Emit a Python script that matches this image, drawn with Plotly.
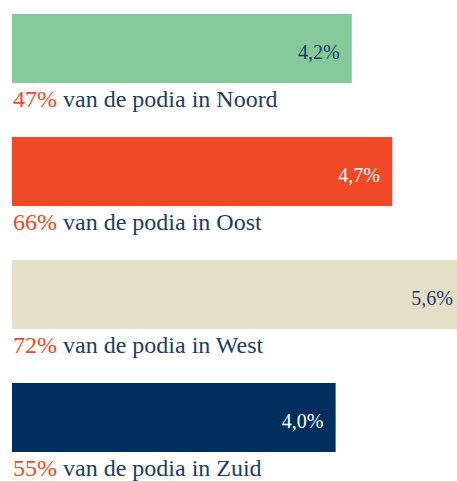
import plotly.graph_objects as go

# Regio's, het aandeel (%) per regio en het aandeel podia in die regio
regios = ["Noord", "Oost", "West", "Zuid"]
aandeel = [4.2, 4.7, 5.6, 4.0]
podia_pct = [47, 66, 72, 55]

bar_colors = ["#86C99B", "#F04925", "#E6DFC7", "#002F5F"]
value_text_colors = ["#1B3C6B", "#FFFFFF", "#1B3C6B", "#FFFFFF"]

NAVY = "#1B3C6B"
ORANGE = "#F04925"
FONT = "Liberation Serif"

Y_RANGE = [3.516, -0.394]
VALUE_DROP = 0.043  # waardelabels iets onder het midden van de balk

fig = go.Figure()
fig.add_trace(go.Bar(
    x=aandeel,
    y=regios,
    orientation="h",
    width=0.56,
    marker=dict(color=bar_colors, line=dict(width=0)),
    hoverinfo="skip",
))

# Waardelabels rechts in de balk (onzichtbare marker geeft de marge tot het balkeinde)
fig.add_trace(go.Scatter(
    x=aandeel,
    y=regios,
    yaxis="y2",
    mode="markers+text",
    marker=dict(size=18, opacity=0),
    texttemplate="%{x:.1f}%",
    textposition="middle left",
    textfont=dict(family=FONT, size=20, color=value_text_colors),
    cliponaxis=True,
    hoverinfo="skip",
))

# Toelichting onder elke balk
for regio, pct in zip(regios, podia_pct):
    fig.add_annotation(
        xref="paper", x=0, xanchor="left", xshift=-1,
        yref="y", y=regio, yanchor="top", yshift=-35.5,
        text=f'<span style="color:{ORANGE}">{pct}%</span> van de podia in {regio}',
        showarrow=False,
        font=dict(family=FONT, size=24, color=NAVY),
        align="left",
    )

fig.update_layout(
    width=457, height=481,
    margin=dict(l=12, r=0, t=0, b=0),
    paper_bgcolor="white", plot_bgcolor="white",
    separators=",.",
    showlegend=False,
    xaxis=dict(visible=False, range=[0, 5.50], fixedrange=True),
    yaxis=dict(visible=False, range=Y_RANGE, fixedrange=True,
               categoryorder="array", categoryarray=regios),
    yaxis2=dict(visible=False, overlaying="y", fixedrange=True,
                range=[Y_RANGE[0] - VALUE_DROP, Y_RANGE[1] - VALUE_DROP],
                categoryorder="array", categoryarray=regios),
)

fig.write_html("out.html", config={"displayModeBar": False})
